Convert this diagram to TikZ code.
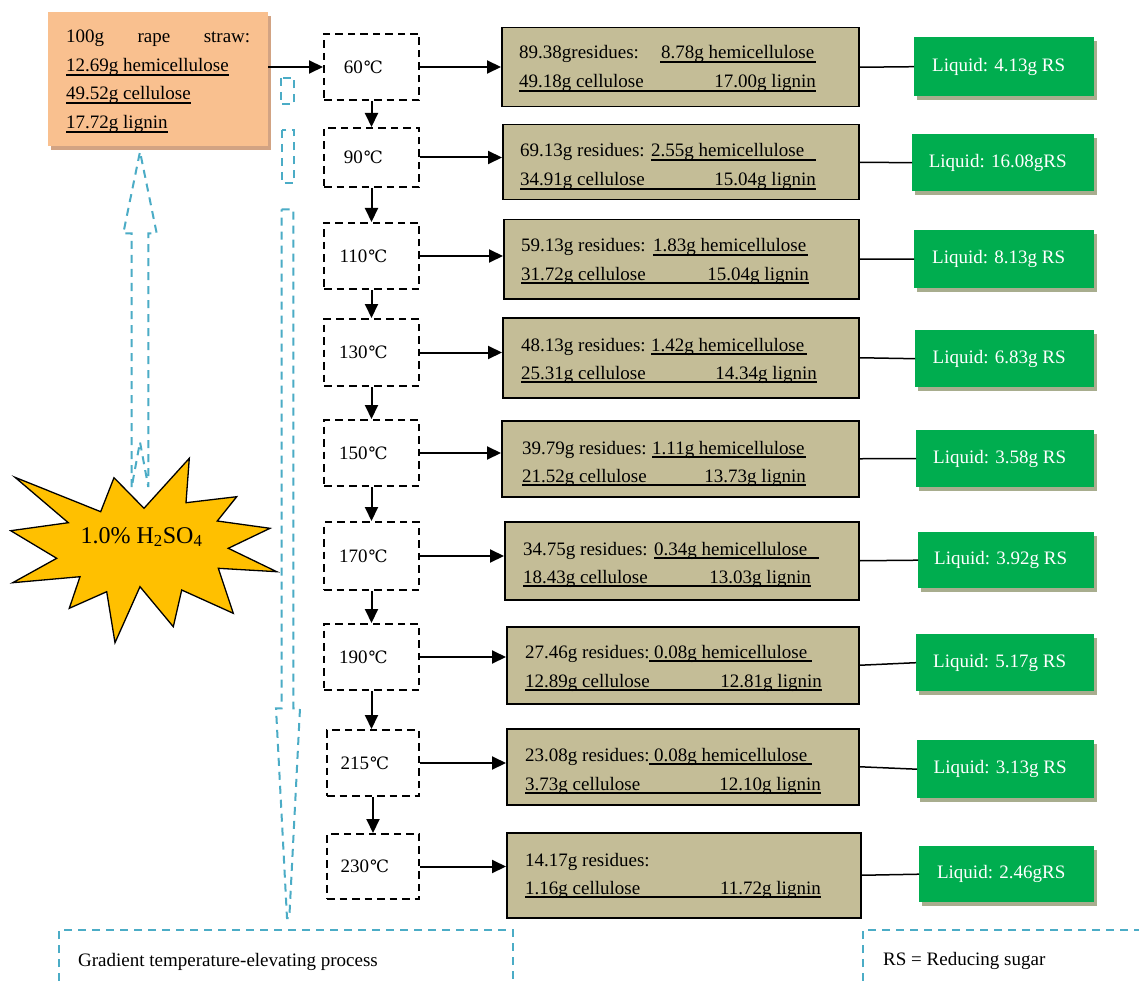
\documentclass[tikz,border=0pt]{standalone}
\usepackage{fontspec}
\setmainfont{Liberation Serif}
\newfontfamily\degfont{DejaVu Serif}
\usetikzlibrary{arrows.meta,shadows}
\definecolor{orangefill}{HTML}{F9C08F}
\definecolor{orangeshadow}{HTML}{D2A383}
\definecolor{tanfill}{HTML}{C4BD97}
\definecolor{greenfill}{HTML}{00AD4F}
\definecolor{greenshadow}{HTML}{A8AD8E}
\definecolor{bluedash}{HTML}{4BACC6}
\definecolor{starfill}{HTML}{FFC000}
\newcommand{\degC}{{\degfont\fontsize{17}{20}\selectfont\kern1pt ℃}}
\tikzset{
  txt/.style={inner sep=0pt, font=\fontsize{19}{23}\selectfont},
  smalltxt/.style={inner sep=0pt, font=\fontsize{19}{23}\selectfont},
  tempbox/.style={draw=black, line width=2pt, dash pattern=on 7.5pt off 5pt, inner sep=0pt, font=\fontsize{19}{23}\selectfont},
  resbox/.style={draw=black, fill=tanfill, line width=1.5pt, inner sep=0pt},
  greenbox/.style={fill=greenfill, text=white, inner sep=0pt, font=\fontsize{19}{23}\selectfont,
     general shadow={fill=greenshadow, shadow xshift=3pt, shadow yshift=-4pt}},
  strawbox/.style={fill=orangefill, inner sep=0pt,
     general shadow={fill=orangeshadow, shadow xshift=3pt, shadow yshift=-4pt}},
  arr/.style={line width=2pt, -{Triangle[length=14pt, width=13pt]}},
  conn/.style={line width=1.5pt},
  uline/.style={line width=1.2pt},
  bluedashed/.style={draw=bluedash, line width=2pt, dash pattern=on 8pt off 6pt},
  starshape/.style={fill=starfill, draw=black, line width=1.3pt, line join=miter},
}
\begin{document}
\begin{tikzpicture}[x=1pt, y=-1pt]
\useasboundingbox (0,0) rectangle (1139,981);
\fill[white] (0,0) rectangle (1139,981);

% blue dashed block arrows
\draw[bluedashed] (131.7,487) -- (131.7,233.3) -- (123.3,233.3) -- (140,151.7) -- (156.7,233.3) -- (148.3,233.3) -- (148.3,487) -- (140,442) -- cycle;
\draw[bluedashed] (281.7,209.3) -- (293.3,209.3) -- (293.3,708.3) -- (300,708.3) -- (289.3,918) -- (287,918) -- (276,708.3) -- (281.7,708.3) -- cycle;
\draw[bluedashed] (280.5,78) rectangle (294,104.5);
\draw[bluedashed] (281.7,130) rectangle (294,183);

% acid star
\draw[starshape] (15,477.3) -- (100.7,511.7) -- (114,477.7) -- (144,508.3) -- (189.3,458.3) -- (186,502.7) -- (236.7,496.7) -- (217.3,521) -- (270,528.3) -- (228.3,548.3) -- (276.7,571.7) -- (218.3,568.3) -- (233.3,613.3) -- (181.7,590) -- (173.3,626.7) -- (140,586.7) -- (115,642.7) -- (106.7,591.7) -- (69.3,608.3) -- (80,576.7) -- (12.7,582.7) -- (56.7,558.3) -- (10.7,530.7) -- (68.3,522.7) -- cycle;
\node[inner sep=0pt, font=\fontsize{24}{28}\selectfont, anchor=base] (acid) at (141.5,543) {1.0\% H\textsubscript{2}SO\textsubscript{4}};

% raw material box
\node[strawbox, anchor=north west, minimum width=220pt, minimum height=134pt] (straw) at (48,12) {};
\node[txt, anchor=base west] (s1) at (66,43) {\makebox[184pt][s]{100g rape straw:}};
\node[txt, anchor=base west] (s2) at (66,72) {12.69g hemicellulose};
\node[txt, anchor=base west] (s3) at (66,100) {49.52g cellulose};
\node[txt, anchor=base west] (s4) at (66,129) {17.72g lignin};
\foreach \s in {s2,s3,s4}
  \draw[uline] ([yshift=-3pt]\s.base west) -- ([yshift=-3pt]\s.base east);

% temperature boxes
\foreach \n/\l/\t/\b/\txt in {1/323/33/99/60, 2/323/127/186/90, 3/323/222/288/110, 4/323/318/385/130, 5/323/419/485/150, 6/323/521/589/170, 7/323/623/689/190, 8/326/729/795/215, 9/326/833/898/230}{
  \pgfmathsetmacro\w{418-\l}\pgfmathsetmacro\h{\b-\t}
  \node[tempbox, minimum width=\w pt, minimum height=\h pt, anchor=north west] (t\n) at (\l,\t) {\txt\degC\kern16pt};
}

% residue boxes
\foreach \n/\l/\t/\r/\b in {1/501/27/858/106, 2/502/124/858/199, 3/503/219/858/298, 4/502/317/858/397, 5/501/420/858/496, 6/504/521/858/599, 7/506/626/858/703, 8/506/728/858/804, 9/506/832/860/917}{
  \pgfmathsetmacro\w{\r-\l}\pgfmathsetmacro\h{\b-\t}
  \node[resbox, minimum width=\w pt, minimum height=\h pt, anchor=north west] (r\n) at (\l,\t) {};
}

% residue texts
\foreach \n/\x/\ya/\yb/\lead/\hx/\ua/\ub/\hemi/\cell/\lig/\lx in {
  1/519/59/88/89.38gresidues:/661/660/816/8.78g hemicellulose/49.18g cellulose/17.00g lignin/816,
  2/520/157/186/69.13g residues:/651/651/816/2.55g hemicellulose/34.91g cellulose/15.04g lignin/816,
  3/521/252/280/59.13g residues:/653/653/808/1.83g hemicellulose/31.72g cellulose/15.04g lignin/809,
  4/521/351/379/48.13g residues:/651/651/807/1.42g hemicellulose/25.31g cellulose/14.34g lignin/817,
  5/522/454/482/39.79g residues:/652/652/806/1.11g hemicellulose/21.52g cellulose/13.73g lignin/806,
  6/523/555/583/34.75g residues:/654/654/819/0.34g hemicellulose/18.43g cellulose/13.03g lignin/811,
  7/525/658/687/27.46g residues:/654/649/812/0.08g hemicellulose/12.89g cellulose/12.81g lignin/822,
  8/525/761/790/23.08g residues:/654/649/812/0.08g hemicellulose/3.73g cellulose/12.10g lignin/821}{
  \node[txt, anchor=base west] (ra\n) at (\x,\ya) {\lead};
  \node[txt, anchor=base west] (rh\n) at (\hx,\ya) {\hemi};
  \draw[uline] (\ua,\ya+3) -- (\ub,\ya+3);
  \node[txt, anchor=base west] (rc\n) at (\x,\yb) {\cell};
  \node[txt, anchor=base east] (rl\n) at (\lx,\yb) {\lig};
  \draw[uline] (\x,\yb+3) -- (\lx,\yb+3);
}
\node[txt, anchor=base west] (ra9) at (525,866) {14.17g residues:};
\node[txt, anchor=base west] (rc9) at (525,894) {1.16g cellulose};
\node[txt, anchor=base east] (rl9) at (821,894) {11.72g lignin};
\draw[uline] (525,897) -- (821,897);

% liquid boxes
\foreach \n/\l/\t/\b/\txt in {1/914/37/96/Liquid: 4.13g RS, 2/912/134/191/Liquid: 16.08gRS, 3/914/230/288/Liquid: 8.13g RS, 4/915/330/387/Liquid: 6.83g RS, 5/916/430/487/Liquid: 3.58g RS, 6/918/532/588/Liquid: 3.92g RS, 7/916/634/691/Liquid: 5.17g RS, 8/917/740/798/Liquid: 3.13g RS, 9/919/846/902/Liquid: 2.46gRS}{
  \pgfmathsetmacro\w{1094-\l}\pgfmathsetmacro\h{\b-\t}
  \node[greenbox, minimum width=\w pt, minimum height=\h pt, anchor=north west] (g\n) at (\l,\t) {\txt\kern11pt};
}

% connectors
\draw[arr] (straw.east |- t1.west) -- (t1.west);
\foreach \n in {1,...,9}{
  \draw[arr] (t\n.east) -- (t\n.east -| r\n.west);
  \draw[conn] (r\n.east) -- (g\n.west);
}
\foreach \n [evaluate=\n as \m using int(\n+1)] in {1,...,8}
  \draw[arr] (t\n.south) -- (t\n.south |- t\m.north);

% legends
\draw[bluedashed] (59,981) -- (59,930) -- (513,930) -- (513,981);
\node[smalltxt, anchor=base west] (legend1) at (78,966) {Gradient temperature-elevating process};
\draw[bluedashed] (863,981) -- (863,930) -- (1139,930);
\node[smalltxt, anchor=base west] (legend2) at (883,965) {RS = Reducing sugar};
\end{tikzpicture}
\end{document}
